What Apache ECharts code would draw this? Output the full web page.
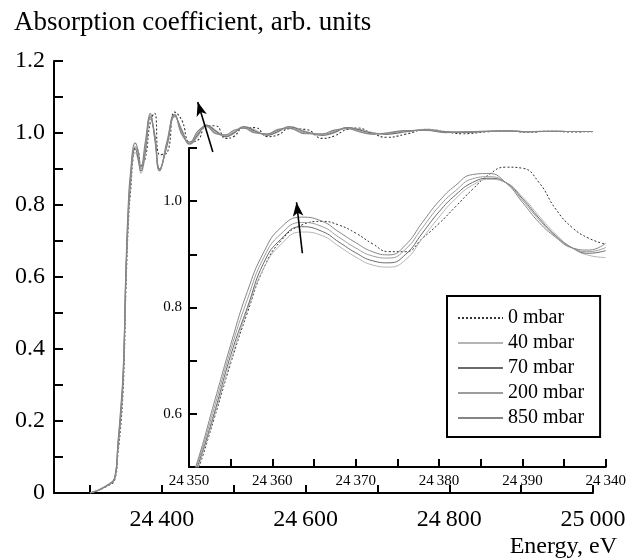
<!DOCTYPE html>
<html>
<head>
<meta charset="utf-8">
<script src="https://cdn.jsdelivr.net/npm/echarts@6/dist/echarts.min.js"></script>
<style>
html,body{margin:0;padding:0;background:#fff;}
#main{width:629px;height:560px;}
</style>
</head>
<body>
<div id="main"></div>
<script>
// series names
const pressures = ['0 mbar', '40 mbar', '70 mbar', '200 mbar', '850 mbar'];

// main panel: energy (eV) and absorption for each pressure
const mainEnergy = [24300, 24321, 24335, 24339, 24343, 24346, 24348, 24350, 24354, 24357,
  24360, 24363, 24367, 24371, 24377, 24384, 24390, 24397, 24407, 24418,
  24428, 24439, 24450, 24462, 24475, 24489, 24500, 24514, 24530, 24547,
  24562, 24577, 24600, 24624, 24640, 24658, 24672, 24692, 24713, 24740,
  24769, 24794, 24819, 24850, 24880, 24910, 24940, 24970, 25000];
const mainMu0 = [0, 0.016, 0.04, 0.11, 0.19, 0.28, 0.39, 0.56, 0.77, 0.85,
  0.93, 0.958, 0.95, 0.91, 0.93, 1.03, 1.055, 0.94, 0.945, 1.058,
  1.035, 0.975, 0.98, 1.02, 1.02, 0.985, 0.99, 1.015, 1.015, 0.99,
  0.995, 1.012, 1.01, 0.985, 0.992, 1.01, 1.014, 1.0, 0.988, 0.997,
  1.01, 1.004, 0.998, 1.003, 1.006, 1.002, 1.005, 1.003, 1.004];
const mainMu40 = [0, 0.017, 0.044, 0.12, 0.21, 0.30, 0.42, 0.59, 0.79, 0.87,
  0.935, 0.945, 0.925, 0.888, 0.94, 1.04, 1.0, 0.9, 0.96, 1.045,
  1.01, 0.968, 0.99, 1.022, 1.008, 0.99, 0.998, 1.018, 1.008, 0.994,
  1.003, 1.017, 1.005, 0.993, 1.0, 1.015, 1.012, 1.002, 0.996, 1.003,
  1.01, 1.004, 1.001, 1.004, 1.006, 1.003, 1.005, 1.004, 1.004];
const mainMu70 = [0, 0.017, 0.045, 0.13, 0.22, 0.31, 0.43, 0.60, 0.80, 0.88,
  0.945, 0.955, 0.93, 0.895, 0.95, 1.045, 0.995, 0.9, 0.965, 1.048,
  1.005, 0.97, 0.995, 1.022, 1.005, 0.99, 1.0, 1.017, 1.005, 0.994,
  1.005, 1.017, 1.003, 0.994, 1.002, 1.015, 1.01, 1.0, 0.997, 1.004,
  1.009, 1.003, 1.002, 1.004, 1.005, 1.004, 1.004, 1.004, 1.004];
const mainMu200 = [0, 0.017, 0.046, 0.135, 0.23, 0.32, 0.44, 0.61, 0.81, 0.89,
  0.95, 0.962, 0.94, 0.9, 0.96, 1.05, 0.99, 0.895, 0.97, 1.05,
  1.0, 0.972, 1.0, 1.02, 1.0, 0.992, 1.003, 1.015, 1.002, 0.996,
  1.008, 1.015, 1.0, 0.996, 1.005, 1.014, 1.007, 0.998, 0.999, 1.006,
  1.008, 1.002, 1.003, 1.005, 1.005, 1.004, 1.005, 1.004, 1.004];
const mainMu850 = [0, 0.018, 0.048, 0.14, 0.24, 0.33, 0.45, 0.62, 0.83, 0.90,
  0.96, 0.972, 0.95, 0.905, 0.975, 1.055, 0.985, 0.895, 0.975, 1.052,
  0.995, 0.975, 1.005, 1.018, 0.998, 0.995, 1.007, 1.013, 1.0, 0.998,
  1.01, 1.013, 0.998, 0.998, 1.008, 1.012, 1.005, 0.997, 1.0, 1.007,
  1.007, 1.001, 1.003, 1.005, 1.006, 1.003, 1.005, 1.004, 1.004];

// inset: near-edge region
const insetEnergy = [24350, 24351, 24353, 24355, 24357, 24359, 24361, 24363.5, 24366, 24368,
  24370, 24372, 24374, 24376, 24378, 24380, 24382, 24384, 24386, 24388,
  24390, 24392, 24394, 24396, 24398, 24400];
const insetMu0 = [0.45, 0.49, 0.59, 0.695, 0.79, 0.875, 0.925, 0.955, 0.962, 0.955,
  0.94, 0.92, 0.905, 0.905, 0.93, 0.958, 0.99, 1.022, 1.05, 1.064,
  1.062, 1.035, 0.985, 0.95, 0.93, 0.919];
const insetMu40 = [0.455, 0.495, 0.595, 0.70, 0.795, 0.875, 0.918, 0.942, 0.935, 0.915,
  0.895, 0.88, 0.876, 0.89, 0.93, 0.97, 1.005, 1.03, 1.041, 1.035,
  1.008, 0.972, 0.938, 0.912, 0.898, 0.894];
const insetMu70 = [0.46, 0.50, 0.60, 0.71, 0.80, 0.885, 0.928, 0.952, 0.943, 0.923,
  0.903, 0.888, 0.884, 0.90, 0.94, 0.98, 1.012, 1.035, 1.043, 1.035,
  1.005, 0.968, 0.935, 0.912, 0.902, 0.907];
const insetMu200 = [0.465, 0.505, 0.61, 0.72, 0.815, 0.895, 0.938, 0.96, 0.952, 0.932,
  0.912, 0.897, 0.893, 0.91, 0.95, 0.99, 1.02, 1.042, 1.046, 1.035,
  1.002, 0.965, 0.934, 0.912, 0.905, 0.913];
const insetMu850 = [0.47, 0.51, 0.62, 0.73, 0.83, 0.905, 0.95, 0.97, 0.962, 0.942,
  0.922, 0.905, 0.899, 0.918, 0.96, 1.0, 1.03, 1.05, 1.052, 1.035,
  0.998, 0.96, 0.932, 0.912, 0.908, 0.921];

// ticks and labels
const mainXTicks = [24300, 24400, 24500, 24600, 24700, 24800, 24900, 25000];
const mainXLabelValues = [24400, 24600, 24800, 25000];
const insetXLabelValues = [24350, 24360, 24370, 24380, 24390, 24400];
const insetXLabels = ['24350', '24360', '24370', '24380', '24390', '24340'];

// arrows (data coordinates: tail, head)
const mainArrow = [[24471, 0.947], [24450, 1.086]];
const insetArrow = [[24363.6, 0.902], [24362.9, 0.998]];

const font = 'Liberation Serif';
const lineColors = ['#333', '#b4b4b4', '#6a6a6a', '#9c9c9c', '#858585'];
const mainSets = [mainMu0, mainMu40, mainMu70, mainMu200, mainMu850];
const insetSets = [insetMu0, insetMu40, insetMu70, insetMu200, insetMu850];

function pairs(xs, ys) {
  return xs.map(function (x, i) { return [x, ys[i]]; });
}
function spaced(s) {
  return s.slice(0, 2) + '\u2009' + s.slice(2);
}
function arrowLine(a) {
  return {
    silent: true,
    symbol: ['none', 'arrow'],
    symbolSize: [8, 14],
    label: {show: false},
    lineStyle: {color: '#000', width: 1.6, type: 'solid'},
    data: [[{coord: a[0]}, {coord: a[1]}]]
  };
}

const axisLine = {show: true, onZero: false, lineStyle: {color: '#000', width: 2}};

var series = [];
pressures.forEach(function (name, i) {
  series.push({
    name: name,
    type: 'line',
    xAxisIndex: 0,
    yAxisIndex: 0,
    data: pairs(mainEnergy, mainSets[i]),
    symbol: 'none',
    smooth: 0.5,
    lineStyle: {color: lineColors[i], width: 1.1, type: i === 0 ? [2, 2] : 'solid'},
    itemStyle: {color: lineColors[i]},
    markLine: i === 4 ? arrowLine(mainArrow) : undefined
  });
});
pressures.forEach(function (name, i) {
  series.push({
    name: name,
    type: 'line',
    xAxisIndex: 1,
    yAxisIndex: 1,
    data: pairs(insetEnergy, insetSets[i]),
    symbol: 'none',
    smooth: 0.5,
    lineStyle: {color: lineColors[i], width: 1, type: i === 0 ? [2, 2] : 'solid'},
    itemStyle: {color: lineColors[i]},
    markLine: i === 4 ? arrowLine(insetArrow) : undefined
  });
});

var chart = echarts.init(document.getElementById('main'));
chart.setOption({
  animation: false,
  backgroundColor: '#fff',
  title: [
    {text: 'Absorption coefficient, arb. units', left: 9, top: 4,
      textStyle: {fontFamily: font, fontSize: 27, fontWeight: 'normal', color: '#000'}},
    {text: 'Energy, eV', right: 7, top: 530,
      textStyle: {fontFamily: font, fontSize: 24, fontWeight: 'normal', color: '#000'}}
  ],
  legend: {
    data: pressures,
    orient: 'vertical',
    left: 447,
    top: 296,
    padding: [12, 16, 9, 10],
    borderColor: '#000',
    borderWidth: 2,
    itemWidth: 45,
    itemHeight: 12,
    itemGap: 5,
    itemStyle: {opacity: 0},
    textStyle: {fontFamily: font, fontSize: 20, color: '#000'}
  },
  grid: [
    {left: 54, top: 61, width: 539, height: 432},
    {left: 189, top: 148, width: 423, height: 319}
  ],
  xAxis: [
    {
      type: 'value', gridIndex: 0, min: 24250, max: 25000,
      axisLine: axisLine,
      axisTick: {inside: true, length: 8, lineStyle: {color: '#000', width: 2}, customValues: mainXTicks},
      axisLabel: {customValues: mainXLabelValues, margin: 15, fontFamily: font, fontSize: 24, color: '#000',
        formatter: function (v) { return spaced(String(v)); }},
      splitLine: {show: false}
    },
    {
      type: 'value', gridIndex: 1, min: 24350, max: 24400, interval: 5,
      axisLine: axisLine,
      axisTick: {inside: true, length: 8, lineStyle: {color: '#000', width: 2}},
      axisLabel: {customValues: insetXLabelValues, margin: 7, fontFamily: font, fontSize: 15, color: '#000',
        formatter: function (v) { return spaced(insetXLabels[Math.round((v - 24350) / 10)]); }},
      splitLine: {show: false}
    }
  ],
  yAxis: [
    {
      type: 'value', gridIndex: 0, min: 0, max: 1.2, interval: 0.1,
      axisLine: axisLine,
      axisTick: {inside: true, length: 9, lineStyle: {color: '#000', width: 2}},
      axisLabel: {margin: 9, fontFamily: font, fontSize: 24, color: '#000',
        formatter: function (v) {
          var k = Math.round(v * 10);
          if (k % 2) return '';
          return k === 0 ? '0' : (k / 10).toFixed(1);
        }},
      splitLine: {show: false}
    },
    {
      type: 'value', gridIndex: 1, min: 0.5, max: 1.1, interval: 0.1,
      axisLine: axisLine,
      axisTick: {inside: true, length: 8, lineStyle: {color: '#000', width: 2}},
      axisLabel: {margin: 7, fontFamily: font, fontSize: 15, color: '#000',
        formatter: function (v) {
          var k = Math.round(v * 10);
          return (k === 6 || k === 8 || k === 10) ? (k / 10).toFixed(1) : '';
        }},
      splitLine: {show: false}
    }
  ],
  series: series
});
</script>
</body>
</html>
